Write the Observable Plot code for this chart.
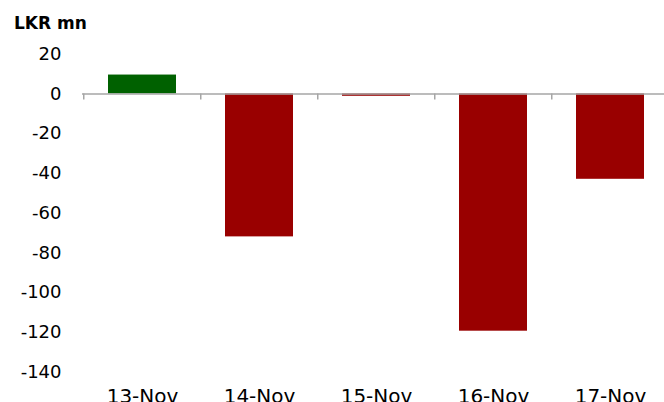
<!DOCTYPE html>
<html>
<head>
<meta charset="utf-8">
<script src="https://cdn.jsdelivr.net/npm/d3@7"></script>
<script src="https://cdn.jsdelivr.net/npm/@observablehq/plot@0.6"></script>
<style>
  html, body { margin: 0; padding: 0; background: #fff; }
  #wrap { position: relative; width: 664px; height: 402px; overflow: hidden; }
  #title { position: absolute; left: 14px; top: 13px; font: bold 17px "DejaVu Sans", sans-serif; color: #000; }
</style>
</head>
<body>
<div id="wrap"><div id="title">LKR mn</div></div>
<script>
const dates = ["13-Nov", "14-Nov", "15-Nov", "16-Nov", "17-Nov"];
const values = [9.5, -72, -1.2, -119.5, -43];
const yTicks = [20, 0, -20, -40, -60, -80, -100, -120, -140];

const data = dates.map((d, i) => ({date: d, value: values[i]}));
const xRange = [82, 669.5];
const step = (xRange[1] - xRange[0]) / dates.length;

const chart = Plot.plot({
  width: 664,
  height: 402,
  marginLeft: 82,
  marginRight: 0,
  marginTop: 50,
  marginBottom: 30,
  style: {fontFamily: "DejaVu Sans, sans-serif", background: "transparent", overflow: "visible"},
  x: {domain: dates, range: xRange, paddingInner: 0.415, paddingOuter: 0.2075, label: null},
  y: {domain: [-140, 20], range: [371.4, 53.7], label: null},
  marks: [
    Plot.barY(data, {x: "date", y: "value", fill: d => d.value >= 0 ? "#006100" : "#990000"}),
    Plot.ruleY([0], {stroke: "#a6a6a6", strokeWidth: 1.5}),
    Plot.ruleX(dates, {x: d => d, y1: 0, y2: 0, dx: -step / 2, insetBottom: -6, stroke: "#a6a6a6", strokeWidth: 1.5}),
    Plot.axisY({ticks: yTicks, tickSize: 0, tickPadding: 21, fontSize: 18, tickFormat: d => String(d), color: "#000"}),
    Plot.axisX({tickSize: 0, tickPadding: 16, fontSize: 20, color: "#000"})
  ]
});
document.getElementById("wrap").prepend(chart);
</script>
</body>
</html>
